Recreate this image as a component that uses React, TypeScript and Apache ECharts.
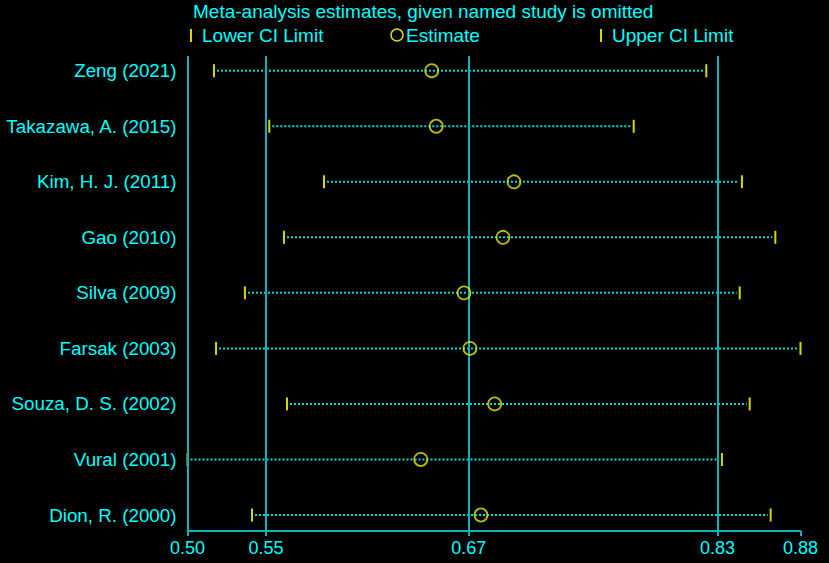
import React, { useEffect, useRef } from "react";
import * as echarts from "echarts";

const studies = [
  "Zeng (2021)",
  "Takazawa, A. (2015)",
  "Kim, H. J. (2011)",
  "Gao (2010)",
  "Silva (2009)",
  "Farsak (2003)",
  "Souza, D. S. (2002)",
  "Vural (2001)",
  "Dion, R. (2000)",
];
const lowerCI = [0.5164, 0.5507, 0.5846, 0.5598, 0.5356, 0.5177, 0.5617, 0.5, 0.54];
const estimates = [0.6514, 0.6542, 0.7024, 0.6956, 0.6714, 0.6751, 0.6904, 0.6446, 0.6819];
const upperCI = [0.8216, 0.7766, 0.8437, 0.8644, 0.8423, 0.88, 0.8485, 0.8313, 0.8615];
const axisTickValues = [0.5, 0.5487, 0.6743, 0.8286, 0.88];
const referenceLines = [0.5, 0.5487, 0.6743, 0.8286];
const xMin = 0.5;
const xMax = 0.88;

const CYAN = "#00ffff";
const TEAL = "#0fb3b3";
const DOT = "#00dede";
const YELLOW = "#d8d800";
const FONT = "Liberation Sans, Arial, sans-serif";

export default function App() {
  const ref = useRef<HTMLDivElement>(null);
  useEffect(() => {
    if (!ref.current) return;
    const chart = echarts.init(ref.current, null, { renderer: "svg" });
    const rowIdx = studies.map((_, i) => i + 1);
    const ciData = studies.map((_, i) => [lowerCI[i], upperCI[i], i + 1]);
    const estData = studies.map((_, i) => [estimates[i], i + 1]);

    chart.setOption({
      animation: false,
      backgroundColor: "#000000",
      textStyle: { fontFamily: FONT },
      grid: {
        left: 187.5,
        right: 28.5,
        top: 56,
        bottom: 32,
        containLabel: false,
        outerBoundsMode: "none",
      },
      xAxis: {
        type: "value",
        min: xMin,
        max: xMax,
        splitLine: { show: false },
        axisLine: { show: true, lineStyle: { color: TEAL, width: 2 } },
        axisTick: {
          show: true,
          customValues: axisTickValues,
          length: 5,
          lineStyle: { color: TEAL, width: 2 },
        },
        axisLabel: {
          customValues: axisTickValues,
          formatter: (v: number) => v.toFixed(2),
          color: CYAN,
          fontSize: 18,
          fontFamily: FONT,
          margin: 8,
        },
      },
      yAxis: {
        type: "value",
        inverse: true,
        min: 0.735,
        max: 9.288,
        splitLine: { show: false },
        axisLine: { show: false },
        axisTick: { show: false },
        axisLabel: {
          customValues: rowIdx,
          formatter: (v: number) => studies[Math.round(v) - 1] ?? "",
          color: CYAN,
          fontSize: 18.8,
          fontFamily: FONT,
          margin: 11,
        },
      },
      graphic: [
        {
          type: "text",
          x: 193,
          y: 11,
          style: {
            text: "Meta-analysis estimates, given named study is omitted",
            fill: CYAN,
            fontSize: 19,
            fontFamily: FONT,
            verticalAlign: "middle",
          },
        },
        {
          type: "line",
          shape: { x1: 191, y1: 29, x2: 191, y2: 42 },
          style: { stroke: YELLOW, lineWidth: 2 },
        },
        {
          type: "text",
          x: 202,
          y: 35,
          style: { text: "Lower CI Limit", fill: CYAN, fontSize: 19, fontFamily: FONT, verticalAlign: "middle" },
        },
        {
          type: "circle",
          shape: { cx: 397, cy: 35, r: 6 },
          style: { fill: "none", stroke: YELLOW, lineWidth: 1.5 },
        },
        {
          type: "text",
          x: 406,
          y: 35,
          style: { text: "Estimate", fill: CYAN, fontSize: 19, fontFamily: FONT, verticalAlign: "middle" },
        },
        {
          type: "line",
          shape: { x1: 601, y1: 29, x2: 601, y2: 42 },
          style: { stroke: YELLOW, lineWidth: 2 },
        },
        {
          type: "text",
          x: 612,
          y: 35,
          style: { text: "Upper CI Limit", fill: CYAN, fontSize: 19, fontFamily: FONT, verticalAlign: "middle" },
        },
      ],
      series: [
        {
          type: "line",
          name: "ref",
          data: [],
          z: 1,
          markLine: {
            silent: true,
            precision: 6,
            symbol: ["none", "none"],
            label: { show: false },
            lineStyle: { color: TEAL, width: 2, type: "solid" },
            data: referenceLines.map((v) => ({ xAxis: v })),
          },
        },
        {
          type: "custom",
          name: "CI",
          data: ciData,
          clip: false,
          renderItem: (params: any, api: any) => {
            const lo = api.coord([api.value(0), api.value(2)]);
            const hi = api.coord([api.value(1), api.value(2)]);
            const y = lo[1];
            return {
              type: "group",
              children: [
                {
                  type: "line",
                  shape: { x1: lo[0] + 3, y1: y, x2: hi[0] - 3, y2: y },
                  style: { stroke: DOT, lineWidth: 2, lineDash: [2, 2] },
                },
                {
                  type: "line",
                  shape: { x1: lo[0], y1: y - 6.5, x2: lo[0], y2: y + 6.5 },
                  style: { stroke: YELLOW, lineWidth: 2 },
                },
                {
                  type: "line",
                  shape: { x1: hi[0], y1: y - 6.5, x2: hi[0], y2: y + 6.5 },
                  style: { stroke: YELLOW, lineWidth: 2 },
                },
              ],
            };
          },
          z: 3,
        },
        {
          type: "scatter",
          name: "Estimate",
          data: estData,
          symbol: "circle",
          symbolSize: 13,
          itemStyle: { color: "rgba(0,0,0,0)", borderColor: "#e8e800", borderWidth: 1.8 },
          z: 5,
        },
      ],
    });
    return () => chart.dispose();
  }, []);
  return (
    <div
      ref={ref}
      style={{ position: "fixed", left: 0, top: 0, width: 829, height: 563 }}
    />
  );
}
